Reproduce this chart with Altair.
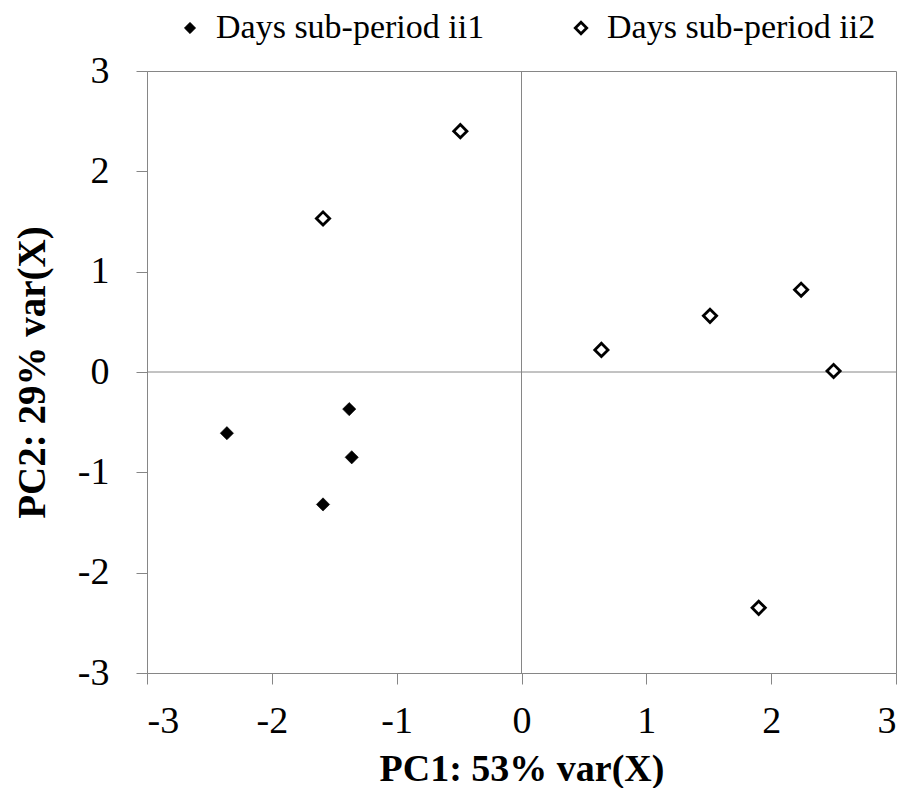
import altair as alt
import pandas as pd

# Data
series_names = ["Days sub-period ii1", "Days sub-period ii2"]
ii1_pc1 = [-2.36, -1.38, -1.36, -1.59]
ii1_pc2 = [-0.61, -0.37, -0.85, -1.32]
ii2_pc1 = [-0.49, -1.59, 0.64, 1.51, 2.24, 2.50, 1.90]
ii2_pc2 = [2.40, 1.53, 0.22, 0.56, 0.82, 0.01, -2.35]
axis_ticks = [-3, -2, -1, 0, 1, 2, 3]

pts = pd.DataFrame({
    "pc1": ii1_pc1 + ii2_pc1,
    "pc2": ii1_pc2 + ii2_pc2,
    "series": [series_names[0]] * len(ii1_pc1) + [series_names[1]] * len(ii2_pc1),
})
zero = pd.DataFrame({"v": [0]})

FONT = "Liberation Serif"
GRAY = "#868686"

xscale = alt.Scale(domain=[-3, 3], nice=False, zero=False)
yscale = alt.Scale(domain=[-3, 3], nice=False, zero=False)

legend_kw = dict(title=None, orient="none", direction="horizontal",
                 legendX=26, legendY=-60, symbolSize=130,
                 columnPadding=79, labelOffset=9)

points = alt.Chart(pts).mark_point(shape="diamond", filled=True, size=175, stroke="black", opacity=1).encode(
    x=alt.X("pc1:Q", scale=xscale, title="PC1: 53% var(X)",
            axis=alt.Axis(values=axis_ticks, labelExpr="'' + datum.value", grid=False, tickSize=11,
                          labelPadding=18, titlePadding=10, titleFontSize=38)),
    y=alt.Y("pc2:Q", scale=yscale, title="PC2: 29% var(X)",
            axis=alt.Axis(values=axis_ticks, labelExpr="'' + datum.value", grid=False, tickSize=11,
                          labelPadding=27, titlePadding=25, titleFontSize=39)),
    fill=alt.Fill("series:N", scale=alt.Scale(domain=series_names, range=["black", "white"]),
                  legend=alt.Legend(**legend_kw)),
    strokeWidth=alt.StrokeWidth("series:N", scale=alt.Scale(domain=series_names, range=[0.6, 2.8]),
                                legend=alt.Legend(**legend_kw)),
)

vrule = alt.Chart(zero).mark_rule(color=GRAY, strokeWidth=1).encode(x=alt.X("v:Q", scale=xscale))
hrule = alt.Chart(zero).mark_rule(color=GRAY, strokeWidth=1).encode(y=alt.Y("v:Q", scale=yscale))

chart = alt.layer(vrule, hrule, points).properties(
    width=749, height=602,
    autosize=alt.AutoSizeParams(type="none"),
    padding={"left": 139, "top": 63, "right": 4, "bottom": 115},
).configure_view(
    stroke=GRAY, strokeWidth=1
).configure_axis(
    domainColor=GRAY, tickColor=GRAY, labelColor="black", titleColor="black",
    labelFont=FONT, titleFont=FONT, labelFontSize=38,
    titleFontWeight="bold", labelFontWeight="normal",
).configure_legend(
    labelFont=FONT, labelFontSize=34, labelColor="black", symbolStrokeColor="black",
    symbolType="diamond", labelLimit=400,
)

chart.save("out.html", embed_options={"renderer": "svg", "actions": False})
